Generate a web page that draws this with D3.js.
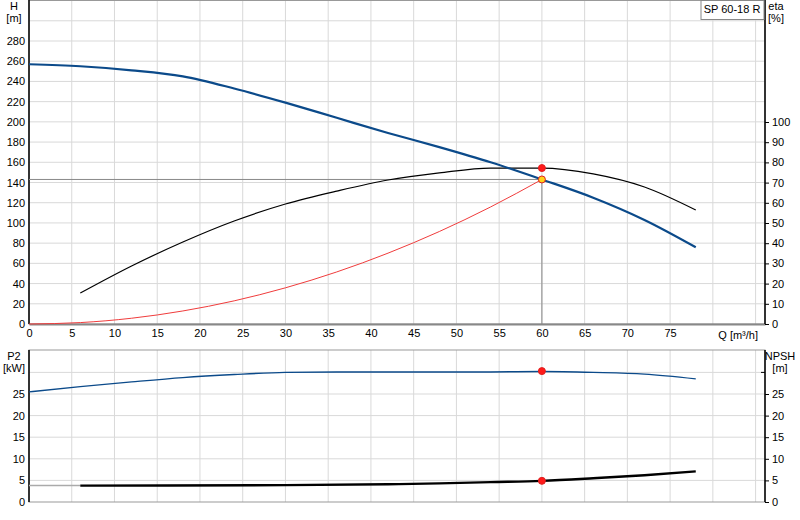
<!DOCTYPE html>
<html><head><meta charset="utf-8">
<script src="https://cdn.jsdelivr.net/npm/d3@7"></script>
<style>
body{margin:0;background:#fff;}
text{font-family:"Liberation Sans",Arial,sans-serif;font-size:11px;fill:#000;}
</style></head>
<body><svg id="c" width="800" height="520"></svg>
<script>
// Pump data
const qH = [0, 6, 12, 18, 24, 30, 36, 42, 48, 54, 60, 66, 72, 78];
const head = [257, 255, 251, 245, 233, 219, 204, 189, 175, 160, 143, 125, 103, 76];
const qEta = [6, 12, 18, 24, 30, 36, 42, 48, 54, 60, 66, 72, 78];
const eta = [15.3, 28.7, 40.6, 51, 59.4, 65.8, 71.3, 74.8, 77.2, 77.2, 74.3, 67.8, 56.4];
const qSys = [0, 6, 12, 18, 24, 30, 36, 42, 48, 54, 60];
const hSys = [0, 1.4, 5.7, 12.9, 22.9, 35.8, 51.5, 70.1, 91.5, 115.8, 143];
const qP2 = [0, 6, 12, 18, 24, 30, 36, 42, 48, 54, 60, 66, 72, 78];
const p2 = [25.5, 26.7, 27.8, 28.8, 29.5, 30.0, 30.1, 30.1, 30.1, 30.1, 30.2, 30.0, 29.6, 28.5];
const qNpsh = [6, 30, 42, 48, 54, 60, 66, 72, 78];
const npsh = [3.8, 3.9, 4.1, 4.3, 4.6, 4.9, 5.5, 6.2, 7.1];
const duty = {q: 60, h: 143, eta: 77.2, p2: 30.3, npsh: 4.9};
const qTicks = [0, 5, 10, 15, 20, 25, 30, 35, 40, 45, 50, 55, 60, 65, 70, 75];
const hTicks = [0, 20, 40, 60, 80, 100, 120, 140, 160, 180, 200, 220, 240, 260, 280];
const etaTicks = [0, 10, 20, 30, 40, 50, 60, 70, 80, 90, 100];
const pTicks = [0, 5, 10, 15, 20, 25];

const svg = d3.select("#c");
const L = 29, R = 765;
const x = d3.scaleLinear().domain([0, 86.1]).range([L, R]);
const yH = d3.scaleLinear().domain([0, 280]).range([324, 41]);
const yE = d3.scaleLinear().domain([0, 100]).range([324, 122]);
const yP = d3.scaleLinear().domain([0, 25]).range([502, 394]);
const top1 = 0, top2 = 350;

// grid
function grid(y0, y1, yVals, ys) {
  const g = svg.append("g").attr("stroke", "#d9d9d9").attr("stroke-width", 1);
  d3.range(5, 90, 5).forEach(q => g.append("line")
    .attr("x1", x(q)).attr("x2", x(q)).attr("y1", y0).attr("y2", y1));
  yVals.forEach(v => g.append("line")
    .attr("x1", L).attr("x2", R).attr("y1", ys(v)).attr("y2", ys(v)));
}
grid(top1, 324, d3.range(20, 320, 20), yH);
grid(top2, 502, [5, 10, 15, 20, 25, 30], yP);

// frames
svg.append("rect").attr("x", L).attr("y", 0.5).attr("width", R - L).attr("height", 323.5)
  .attr("fill", "none").attr("stroke", "#999");
svg.append("rect").attr("x", L).attr("y", top2).attr("width", R - L).attr("height", 152)
  .attr("fill", "none").attr("stroke", "#999");

// axes
svg.append("g").attr("transform", `translate(0,324)`)
  .call(d3.axisBottom(x).tickValues(qTicks).tickSize(0).tickPadding(5))
  .call(g => g.select(".domain").attr("stroke", "#888").attr("stroke-width", 2));
svg.append("g").attr("transform", `translate(${L},0)`)
  .call(d3.axisLeft(yH).tickValues(hTicks).tickSize(0).tickPadding(4))
  .call(g => g.select(".domain").remove());
svg.append("g").attr("transform", `translate(${R},0)`)
  .call(d3.axisRight(yE).tickValues(etaTicks).tickSize(4).tickPadding(3))
  .call(g => g.select(".domain").remove());
svg.append("g").attr("transform", `translate(${L},0)`)
  .call(d3.axisLeft(yP).tickValues(pTicks).tickSize(0).tickPadding(4))
  .call(g => g.select(".domain").remove());
svg.append("g").attr("transform", `translate(${R},0)`)
  .call(d3.axisRight(yP).tickValues(pTicks).tickSize(4).tickPadding(3))
  .call(g => g.select(".domain").remove());
svg.selectAll(".tick text").style("font-size", "11px").attr("font-family", null);
svg.selectAll(".tick line").attr("stroke", "#000");

[[L, 0, 324], [R, 0, 324], [L, top2, 502], [R, top2, 502]].forEach(d =>
  svg.append("line").attr("x1", d[0]).attr("x2", d[0]).attr("y1", d[1]).attr("y2", d[2])
    .attr("stroke", "#000").attr("stroke-width", 1.5));
svg.append("line").attr("x1", R - 4).attr("x2", R).attr("y1", yP(30)).attr("y2", yP(30)).attr("stroke", "#000");

// labels
const lab = (t, xx, yy, a) => svg.append("text").attr("x", xx).attr("y", yy).attr("text-anchor", a || "middle").text(t);
lab("H", 14, 10); lab("[m]", 14, 22);
lab("eta", 776, 10, "middle"); lab("[%]", 776, 22);
lab("P2", 14, 360); lab("[kW]", 14, 372);
lab("NPSH", 780, 360); lab("[m]", 780, 372);
lab("Q [m\u00b3/h]", 758, 339, "end");
svg.append("rect").attr("x", 701).attr("y", 0.5).attr("width", 63).attr("height", 19)
  .attr("fill", "#fff").attr("stroke", "#888");
lab("SP 60-18 R", 732, 13);

// duty crosshair
svg.append("line").attr("x1", L).attr("x2", x(duty.q)).attr("y1", yH(duty.h)).attr("y2", yH(duty.h)).attr("stroke", "#888");
svg.append("line").attr("x1", x(duty.q)).attr("x2", x(duty.q)).attr("y1", yH(duty.h)).attr("y2", 324).attr("stroke", "#888");
svg.append("line").attr("x1", L).attr("x2", x(6)).attr("y1", yP(3.8)).attr("y2", yP(3.8)).attr("stroke", "#aaa").attr("stroke-width", 1.5);

// curves
function curve(qs, vs, ys, color, w) {
  svg.append("path").datum(d3.zip(qs, vs))
    .attr("d", d3.line().x(d => x(d[0])).y(d => ys(d[1])).curve(d3.curveMonotoneX))
    .attr("fill", "none").attr("stroke", color).attr("stroke-width", w);
}
curve(qSys, hSys, yH, "#f03c3c", 1);
curve(qEta, eta, yE, "#000", 1.2);
curve(qH, head, yH, "#0b4a8a", 2.2);
curve(qP2, p2, yP, "#0b4a8a", 1.4);
curve(qNpsh, npsh, yP, "#000", 2.4);

// points
const dot = (yy, fill) => svg.append("circle").attr("cx", x(duty.q)).attr("cy", yy).attr("r", 3.5)
  .attr("fill", fill).attr("stroke", "#e02020").attr("stroke-width", 1);
dot(yE(duty.eta), "#ff1a1a");
dot(yH(duty.h), "#ffd21a");
dot(yP(duty.p2), "#ff1a1a");
dot(yP(duty.npsh), "#ff1a1a");
</script></body></html>
